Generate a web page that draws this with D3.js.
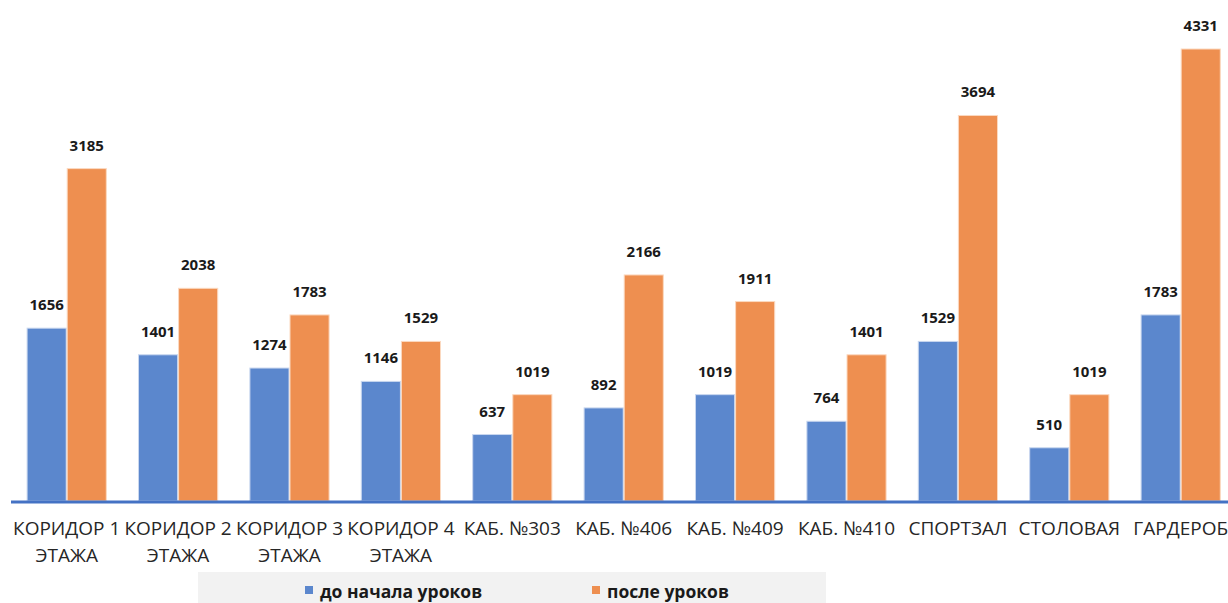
<!DOCTYPE html>
<html>
<head>
<meta charset="utf-8">
<script src="https://cdn.jsdelivr.net/npm/d3@7"></script>
<style>
  html, body { margin: 0; padding: 0; background: #fff; }
  svg { display: block; }
</style>
</head>
<body>
<svg id="chart" width="1228" height="603"></svg>
<script>
// Rooms measured and readings before / after lessons
const categories = [
  ["КОРИДОР 1", "ЭТАЖА"],
  ["КОРИДОР 2", "ЭТАЖА"],
  ["КОРИДОР 3", "ЭТАЖА"],
  ["КОРИДОР 4", "ЭТАЖА"],
  ["КАБ. №303"],
  ["КАБ. №406"],
  ["КАБ. №409"],
  ["КАБ. №410"],
  ["СПОРТЗАЛ"],
  ["СТОЛОВАЯ"],
  ["ГАРДЕРОБ"]
];
const beforeLessons = [1656, 1401, 1274, 1146, 637, 892, 1019, 764, 1529, 510, 1783];
const afterLessons  = [3185, 2038, 1783, 1529, 1019, 2166, 1911, 1401, 3694, 1019, 4331];
const seriesNames = ["до начала уроков", "после уроков"];
const seriesColors = ["#5b87cd", "#ee8f50"];

const svg = d3.select("#chart");
const W = 1228;

const x0 = d3.scaleBand()
  .domain(d3.range(categories.length))
  .range([11, 11 + 111.4 * categories.length])
  .paddingInner(0.28)
  .paddingOuter(0.14);

const x1 = d3.scaleBand()
  .domain([0, 1])
  .range([0, x0.bandwidth()])
  .padding(0);

const y = d3.scaleLinear()
  .domain([0, 4331])
  .range([501, 49]);

const series = [beforeLessons, afterLessons];

const groups = svg.append("g")
  .selectAll("g")
  .data(categories.map((c, i) => i))
  .join("g")
  .attr("transform", i => `translate(${x0(i)},0)`);

groups.selectAll("rect")
  .data(i => series.map((s, k) => ({ k, v: s[i] })))
  .join("rect")
  .attr("x", d => x1(d.k) + 0.5)
  .attr("y", d => y(d.v))
  .attr("width", x1.bandwidth() - 1)
  .attr("height", d => y(0) - y(d.v))
  .attr("fill", d => seriesColors[d.k])
  .attr("stroke", d => d.k === 0 ? "#c9d7ef" : "#fbd9c0")
  .attr("stroke-width", 1);

groups.selectAll("text.val")
  .data(i => series.map((s, k) => ({ k, v: s[i] })))
  .join("text")
  .attr("class", "val")
  .attr("x", d => x1(d.k) + x1.bandwidth() / 2)
  .attr("y", d => y(d.v) - 18)
  .attr("text-anchor", "middle")
  .attr("font-family", "'Open Sans', sans-serif")
  .attr("font-weight", "bold")
  .attr("font-size", 15)
  .attr("fill", "#1a1a1a")
  .text(d => d.v);

// category axis line
svg.append("line")
  .attr("x1", 11).attr("x2", W)
  .attr("y1", 502).attr("y2", 502)
  .attr("stroke", "#4472c4")
  .attr("stroke-width", 3);

// category labels
const labels = svg.append("g")
  .selectAll("text")
  .data(categories.map((c, i) => ({ c, i })))
  .join("text")
  .attr("x", d => x0(d.i) + x0.bandwidth() / 2)
  .attr("y", 535)
  .attr("text-anchor", "middle")
  .attr("font-family", "'Open Sans', sans-serif")
  .attr("font-size", 19)
  .attr("fill", "#262626");
labels.selectAll("tspan")
  .data(d => d.c)
  .join("tspan")
  .attr("x", function () { return d3.select(this.parentNode).attr("x"); })
  .attr("dy", (d, j) => j === 0 ? 0 : 27)
  .text(d => d);

// legend
const legend = svg.append("g");
legend.append("rect")
  .attr("x", 198).attr("y", 572)
  .attr("width", 628).attr("height", 31)
  .attr("fill", "#f2f2f2");
const legendX = [305, 592];
seriesNames.forEach((name, k) => {
  legend.append("rect")
    .attr("x", legendX[k]).attr("y", 586)
    .attr("width", 8).attr("height", 8)
    .attr("fill", seriesColors[k]);
  legend.append("text")
    .attr("x", legendX[k] + 15)
    .attr("y", 598)
    .attr("font-family", "'Open Sans', sans-serif")
    .attr("font-weight", "bold")
    .attr("font-size", 17.5)
    .attr("fill", "#1a1a1a")
    .text(name);
});
</script>
</body>
</html>
